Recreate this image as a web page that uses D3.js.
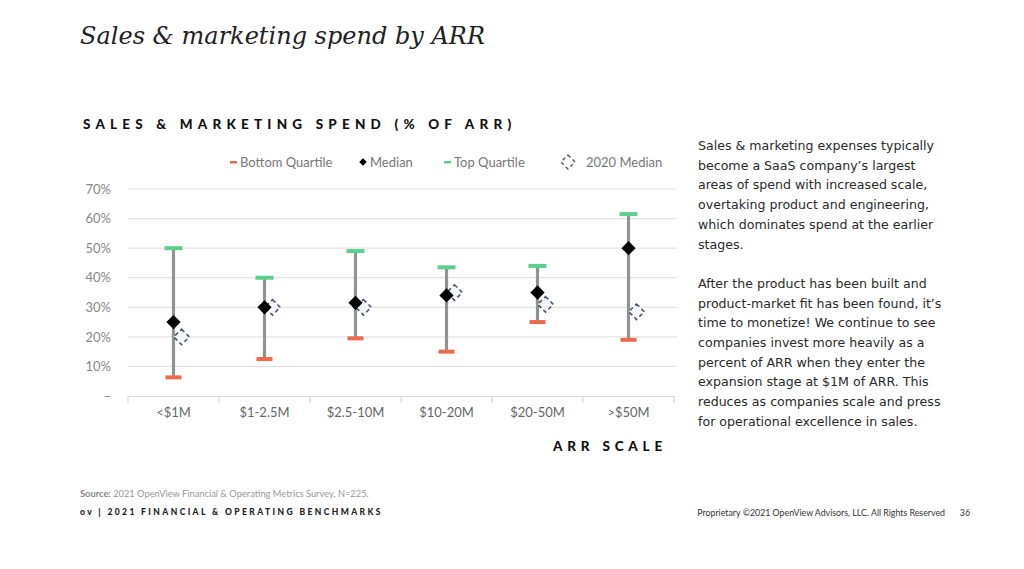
<!DOCTYPE html>
<html>
<head>
<meta charset="utf-8">
<script src="https://cdn.jsdelivr.net/npm/d3@7"></script>
<style>
  body { margin: 0; background: #fff; }
  svg { display: block; }
</style>
</head>
<body>
<div id="chart"></div>
<script>
// data (% of ARR)
var categories = ['<$1M', '$1-2.5M', '$2.5-10M', '$10-20M', '$20-50M', '>$50M'];
var bottomQuartile = [6.3, 12.5, 19.5, 15, 25, 19];
var median = [25, 30, 31.5, 34, 35, 50];
var topQuartile = [50, 40, 49, 43.5, 44, 61.5];
var median2020 = [20, 30, 30, 35, 31, 28.5];
var yTicks = [0, 10, 20, 30, 40, 50, 60, 70];

var sideText = [
  'Sales & marketing expenses typically',
  'become a SaaS company\u2019s largest',
  'areas of spend with increased scale,',
  'overtaking product and engineering,',
  'which dominates spend at the earlier',
  'stages.',
  '',
  'After the product has been built and',
  'product-market fit has been found, it\u2019s',
  'time to monetize! We continue to see',
  'companies invest more heavily as a',
  'percent of ARR when they enter the',
  'expansion stage at $1M of ARR. This',
  'reduces as companies scale and press',
  'for operational excellence in sales.'
];

var W = 1024, H = 569;
var sans = 'Lato, "Open Sans", sans-serif';
var svg = d3.select('#chart').append('svg').attr('width', W).attr('height', H);

// slide title
svg.append('text')
  .attr('x', 80).attr('y', 44)
  .attr('font-family', '"DejaVu Serif", serif')
  .attr('font-style', 'italic')
  .attr('font-size', 24)
  .attr('fill', '#222')
  .text('Sales & marketing spend by ARR');

// chart title
svg.append('text')
  .attr('x', 83).attr('y', 129)
  .attr('font-family', sans)
  .attr('font-weight', 900)
  .attr('font-size', 13.5)
  .attr('letter-spacing', 5.2)
  .attr('fill', '#111')
  .text('SALES & MARKETING SPEND (% OF ARR)');

var x = d3.scaleBand().domain(categories).range([128, 674]);
var y = d3.scaleLinear().domain([0, 70]).range([396, 189]);

var colors = { bottom: '#ee6a4c', top: '#5ccf8c', whisker: '#8c9590', med: '#000', m2020: '#4a5670' };

// gridlines
svg.append('g').selectAll('line')
  .data(yTicks.filter(d => d > 0))
  .enter().append('line')
  .attr('x1', 128).attr('x2', 677)
  .attr('y1', d => y(d)).attr('y2', d => y(d))
  .attr('stroke', '#e3e3e3').attr('stroke-width', 1.2);

// y axis labels
var yAxis = d3.axisLeft(y).tickValues(yTicks)
  .tickFormat(d => d === 0 ? '\u2013' : d + '%')
  .tickSize(0).tickPadding(0);
var gy = svg.append('g').attr('transform', 'translate(111,0)').call(yAxis);
gy.select('.domain').remove();
gy.selectAll('text').attr('font-family', sans).attr('font-size', 13).attr('fill', '#888');

// x axis
var xAxis = d3.axisBottom(x).tickSize(0).tickPadding(12);
var gx = svg.append('g').attr('transform', 'translate(0,' + y(0) + ')').call(xAxis);
gx.select('.domain').attr('stroke', '#d8d8d8').attr('stroke-width', 1.2);
gx.selectAll('text').attr('font-family', sans).attr('font-size', 13).attr('fill', '#666');
// category separators
gx.append('g').selectAll('line')
  .data(categories.map(c => x(c)).concat([x.range()[1]]))
  .enter().append('line')
  .attr('x1', d => d).attr('x2', d => d)
  .attr('y1', 0).attr('y2', 7)
  .attr('stroke', '#d8d8d8').attr('stroke-width', 1.2);

svg.append('text')
  .attr('x', 667).attr('y', 451)
  .attr('text-anchor', 'end')
  .attr('font-family', sans)
  .attr('font-weight', 900)
  .attr('font-size', 13.5)
  .attr('letter-spacing', 4.8)
  .attr('fill', '#111')
  .text('ARR SCALE');

var rows = categories.map((c, i) => ({
  c: c, lo: bottomQuartile[i], med: median[i], hi: topQuartile[i], m20: median2020[i]
}));
var cx = d => x(d.c) + x.bandwidth() / 2;

var marks = svg.append('g');
// whiskers
marks.selectAll('.whisker').data(rows).enter().append('line')
  .attr('x1', cx).attr('x2', cx)
  .attr('y1', d => y(d.lo)).attr('y2', d => y(d.hi))
  .attr('stroke', colors.whisker).attr('stroke-width', 3.2);
// quartile caps
marks.selectAll('.lo').data(rows).enter().append('rect')
  .attr('x', d => cx(d) - 8).attr('y', d => y(d.lo) - 2)
  .attr('width', 16).attr('height', 4)
  .attr('fill', colors.bottom);
marks.selectAll('.hi').data(rows).enter().append('rect')
  .attr('x', d => cx(d) - 9).attr('y', d => y(d.hi) - 2)
  .attr('width', 18).attr('height', 4)
  .attr('fill', colors.top);

// 2020 median, dashed diamond offset right
var sq2020 = 11;
marks.selectAll('.m20').data(rows).enter().append('rect')
  .attr('x', -sq2020 / 2).attr('y', -sq2020 / 2)
  .attr('width', sq2020).attr('height', sq2020)
  .attr('transform', d => 'translate(' + (cx(d) + 8) + ',' + y(d.m20) + ') rotate(45)')
  .attr('fill', '#f3f4f6').attr('fill-opacity', 0.85)
  .attr('stroke', colors.m2020).attr('stroke-width', 1.6)
  .attr('stroke-dasharray', '4,3');

// median diamonds
var diamond = d3.symbol().type(d3.symbolDiamond2).size(130);
marks.selectAll('.med').data(rows).enter().append('path')
  .attr('d', diamond)
  .attr('transform', d => 'translate(' + cx(d) + ',' + y(d.med) + ')')
  .attr('fill', colors.med);

// legend
var lg = svg.append('g').attr('font-family', sans).attr('font-size', 13).attr('fill', '#777');
lg.append('rect').attr('x', 230).attr('y', 161).attr('width', 7).attr('height', 2.5).attr('fill', colors.bottom);
lg.append('text').attr('x', 240).attr('y', 167).text('Bottom Quartile');
lg.append('path').attr('d', d3.symbol().type(d3.symbolDiamond2).size(36))
  .attr('transform', 'translate(363,162)').attr('fill', '#000');
lg.append('text').attr('x', 370).attr('y', 167).text('Median');
lg.append('rect').attr('x', 444).attr('y', 161).attr('width', 7).attr('height', 2.5).attr('fill', colors.top);
lg.append('text').attr('x', 454).attr('y', 167).text('Top Quartile');
lg.append('rect').attr('x', -5).attr('y', -5).attr('width', 10).attr('height', 10)
  .attr('transform', 'translate(568,162) rotate(45)')
  .attr('fill', 'none').attr('stroke', colors.m2020).attr('stroke-width', 1.4)
  .attr('stroke-dasharray', '3.5,3');
lg.append('text').attr('x', 586).attr('y', 167).text('2020 Median');

// commentary
svg.append('g').selectAll('text').data(sideText).enter().append('text')
  .attr('x', 698).attr('y', (d, i) => 150 + i * 19.7)
  .attr('font-family', '"DejaVu Sans", sans-serif').attr('font-size', 12.6).attr('fill', '#2a2a2a')
  .text(d => d);

// footer
svg.append('text').attr('x', 80).attr('y', 497)
  .attr('font-family', sans).attr('font-size', 9.3).attr('fill', '#999')
  .html('<tspan font-weight="700" fill="#888">Source:</tspan> 2021 OpenView Financial &amp; Operating Metrics Survey, N=225.');
svg.append('text').attr('x', 80).attr('y', 515)
  .attr('font-family', sans).attr('font-size', 8.5).attr('font-weight', 900)
  .attr('letter-spacing', 2.4).attr('fill', '#222')
  .text('ov | 2021 FINANCIAL & OPERATING BENCHMARKS');
svg.append('text').attr('x', 945).attr('y', 516).attr('text-anchor', 'end')
  .attr('font-family', sans).attr('font-size', 8.8).attr('fill', '#333')
  .text('Proprietary \u00a92021 OpenView Advisors, LLC. All Rights Reserved');
svg.append('text').attr('x', 970).attr('y', 516).attr('text-anchor', 'end')
  .attr('font-family', sans).attr('font-size', 8.8).attr('fill', '#333')
  .text('36');
</script>
</body>
</html>
